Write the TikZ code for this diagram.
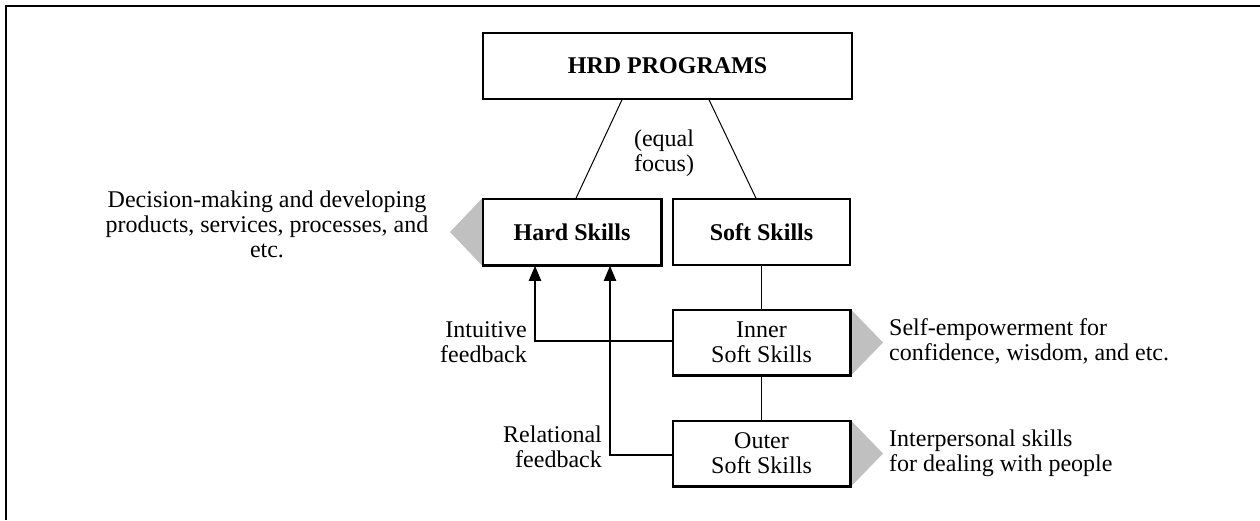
\documentclass[tikz,border=0pt]{standalone}
\usepackage{fontspec}
\setmainfont{Liberation Serif}
\usetikzlibrary{arrows.meta}
\definecolor{pointergray}{HTML}{C0C0C0}
\tikzset{
  txt/.style={font=\fontsize{24}{25}\selectfont, inner sep=0pt},
  skillbox/.style={txt, draw, line width=1.5pt, fill=white, minimum width=177pt, minimum height=66pt, align=center},
  thinline/.style={line width=1pt},
  feedback/.style={line width=2pt, -{Triangle[length=15pt,width=12pt]}},
  pointer/.style={fill=pointergray},
}
\begin{document}
\begin{tikzpicture}[x=1pt,y=-1pt]
\useasboundingbox (0,0) rectangle (1260,520);
% frame
\draw[line width=2pt] (6,520) -- (6,6) -- (1260,6);
% gray pointers
\coordinate (hardtip) at (450,232);
\coordinate (innertip) at (883,342.5);
\coordinate (outertip) at (883,453.5);
% boxes
\node[skillbox, minimum width=369pt] (hrd) at (667.5,66) {\textbf{HRD PROGRAMS}};
\node[skillbox, minimum width=178pt] (hard) at (572,232) {\textbf{Hard Skills}};
\node[skillbox] (soft) at (761.5,232) {\textbf{Soft Skills}};
\node[skillbox, minimum height=65pt] (inner) at (761.5,342.5) {Inner\\Soft Skills};
\node[skillbox, minimum height=65pt] (outer) at (761.5,453.5) {Outer\\Soft Skills};
\fill[pointer] (hard.north west) -- (hardtip) -- (hard.south west) -- cycle;
\fill[pointer] (inner.north east) -- (innertip) -- (inner.south east) -- cycle;
\fill[pointer] (outer.north east) -- (outertip) -- (outer.south east) -- cycle;
\draw[line width=1.5pt] (hard.north west) rectangle (hard.south east);
\draw[line width=1.5pt] (inner.north west) rectangle (inner.south east);
\draw[line width=1.5pt] (outer.north west) rectangle (outer.south east);
% connectors
\draw[thinline] ([xshift=-45.5pt]hrd.south) -- ([xshift=4pt]hard.north);
\draw[thinline] ([xshift=41.5pt]hrd.south) -- ([xshift=-5.5pt]soft.north);
\draw[thinline] (soft.south) -- (inner.north);
\draw[thinline] (inner.south) -- (outer.north);
\draw[feedback] ([yshift=2pt]inner.west) -| ([xshift=-37pt]hard.south);
\draw[feedback] ([yshift=-1pt]outer.west) -| ([xshift=38pt]hard.south);
% labels
\node[txt, align=center] (equal) at (664,153) {(equal\\focus)};
\node[txt, align=center] (hardnote) at (267,224) {Decision-making and developing\\products, services, processes, and\\etc.};
\node[txt, align=right, anchor=east] (intuitive) at (527,342) {Intuitive\\feedback};
\node[txt, align=right, anchor=east] (relational) at (602,447) {Relational\\feedback};
\node[txt, align=left, anchor=west] (innernote) at (889,341) {Self-empowerment for\\confidence, wisdom, and etc.};
\node[txt, align=left, anchor=west] (outernote) at (889,453) {Interpersonal skills\\for dealing with people};
\end{tikzpicture}
\end{document}
